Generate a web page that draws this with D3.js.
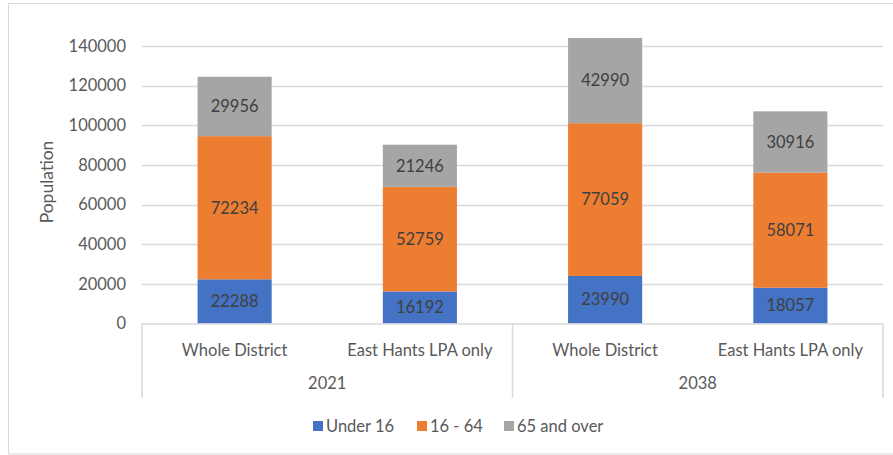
<!DOCTYPE html>
<html>
<head>
<meta charset="utf-8">
<script src="https://cdn.jsdelivr.net/npm/d3@7"></script>
<style>
  html, body { margin: 0; padding: 0; background: #fff; }
  svg { display: block; font-family: Lato, "Open Sans", sans-serif; }
</style>
</head>
<body>
<svg id="chart" width="893" height="455"></svg>
<script>
// Population by age band, East Hampshire
const years = ["2021", "2038"];
const areas = ["Whole District", "East Hants LPA only"];
const seriesNames = ["Under 16", "16 - 64", "65 and over"];
const seriesColors = ["#4472C4", "#ED7D31", "#A5A5A5"];
const under16 = [22288, 16192, 23990, 18057];
const age16to64 = [72234, 52759, 77059, 58071];
const over65 = [29956, 21246, 42990, 30916];
const yTicks = [0, 20000, 40000, 60000, 80000, 100000, 120000, 140000];

const rows = [];
years.forEach((yr, i) => areas.forEach((a, j) => {
  const k = i * areas.length + j;
  rows.push({ key: yr + "|" + a, year: yr, area: a,
    "Under 16": under16[k], "16 - 64": age16to64[k], "65 and over": over65[k] });
}));

const svg = d3.select("#chart");
const plot = { left: 142, right: 883, top: 46, bottom: 323.5 };
const fs = "16.5px";

// chart frame
svg.append("rect").attr("x", 8.5).attr("y", 3.5).attr("width", 900).attr("height", 450.5)
  .attr("fill", "none").attr("stroke", "#d9d9d9").attr("stroke-width", 1);

const x = d3.scaleBand().domain(rows.map(d => d.key))
  .range([plot.left, plot.right]).paddingInner(0.6).paddingOuter(0.3);
const y = d3.scaleLinear().domain([0, 140000]).range([plot.bottom, plot.top]);

// gridlines
svg.append("g").selectAll("line").data(yTicks.filter(t => t > 0)).join("line")
  .attr("x1", plot.left).attr("x2", plot.right)
  .attr("y1", d => Math.round(y(d)) + 0.5).attr("y2", d => Math.round(y(d)) + 0.5)
  .attr("stroke", "#d9d9d9").attr("stroke-width", 1.5);

// y axis labels
const yAxis = d3.axisLeft(y).tickValues(yTicks).tickSize(0).tickPadding(16).tickFormat(d3.format("d"));
const yg = svg.append("g").attr("transform", `translate(${plot.left},0)`).call(yAxis);
yg.select(".domain").remove();
yg.selectAll("text").attr("fill", "#595959").style("font-size", fs).style("font-family", "Lato, sans-serif");

// axis title
svg.append("text").attr("transform", "translate(53,182) rotate(-90)")
  .attr("text-anchor", "middle").attr("fill", "#595959").style("font-size", "17.5px")
  .text("Population");

// stacked bars
const stack = d3.stack().keys(seriesNames)(rows);
const layers = svg.append("g").selectAll("g").data(stack).join("g")
  .attr("fill", (d, i) => seriesColors[i]);
layers.selectAll("rect").data(d => d).join("rect")
  .attr("x", d => x(d.data.key)).attr("width", x.bandwidth())
  .attr("y", d => y(d[1])).attr("height", d => y(d[0]) - y(d[1]));

// value labels
layers.selectAll("text").data((d, i) => d.map(v => ({ v, key: seriesNames[i] }))).join("text")
  .attr("x", d => x(d.v.data.key) + x.bandwidth() / 2)
  .attr("y", d => (y(d.v[0]) + y(d.v[1])) / 2)
  .attr("dy", "0.35em").attr("text-anchor", "middle")
  .attr("fill", "#404040").style("font-size", fs)
  .text(d => d.v.data[d.key]);

// category axis: baseline, separators, labels
const axisColor = "#d9d9d9";
svg.append("line").attr("x1", plot.left).attr("x2", plot.right)
  .attr("y1", plot.bottom + 0.5).attr("y2", plot.bottom + 0.5)
  .attr("stroke", axisColor).attr("stroke-width", 1.5);
const groupWidth = (plot.right - plot.left) / years.length;
d3.range(years.length + 1).forEach(i => {
  const gx = plot.left + i * groupWidth;
  svg.append("line").attr("x1", gx).attr("x2", gx)
    .attr("y1", plot.bottom).attr("y2", 398)
    .attr("stroke", axisColor).attr("stroke-width", 1.5);
});
svg.append("g").selectAll("text").data(rows).join("text")
  .attr("x", d => x(d.key) + x.bandwidth() / 2).attr("y", 350)
  .attr("dy", "0.35em").attr("text-anchor", "middle")
  .attr("fill", "#595959").style("font-size", fs)
  .text(d => d.area);
svg.append("g").selectAll("text").data(years).join("text")
  .attr("x", (d, i) => plot.left + (i + 0.5) * groupWidth).attr("y", 383)
  .attr("dy", "0.35em").attr("text-anchor", "middle")
  .attr("fill", "#595959").style("font-size", fs)
  .text(d => d);

// legend
const legendX = [313, 417, 504];
const lg = svg.append("g").selectAll("g").data(seriesNames).join("g")
  .attr("transform", (d, i) => `translate(${legendX[i]},426)`);
lg.append("rect").attr("x", 0).attr("y", -5).attr("width", 10).attr("height", 10)
  .attr("fill", (d, i) => seriesColors[i]);
lg.append("text").attr("x", 13).attr("dy", "0.35em")
  .attr("fill", "#595959").style("font-size", fs).text(d => d);
</script>
</body>
</html>
